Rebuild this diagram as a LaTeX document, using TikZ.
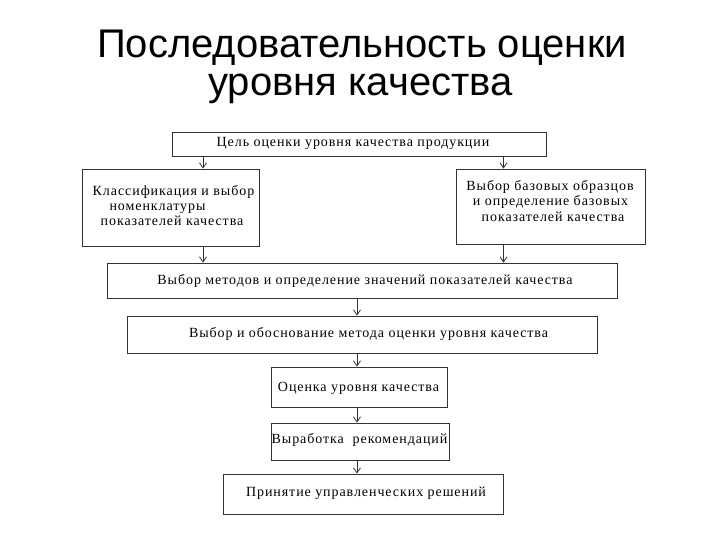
\documentclass[tikz,border=0pt]{standalone}
\usepackage{fontspec}
\setmainfont{Liberation Serif}
\newfontfamily\titlefont{Liberation Sans}
\newfontfamily\boxfont[LetterSpace=6.6]{Liberation Serif}
\usetikzlibrary{arrows.meta}
\begin{document}
\begin{tikzpicture}[x=1bp,y=-1bp,
  bx/.style={draw=black!80,line width=0.9bp,inner sep=0pt,fill=white},
  tx/.style={inner sep=0pt,yshift=-1.5bp,font=\boxfont\fontsize{14bp}{16bp}\selectfont,text height=0.7em,text depth=0.22em},
  ttl/.style={inner sep=0pt,anchor=base,font=\titlefont\fontsize{40bp}{40bp}\selectfont},
  arr/.style={draw=black!80,line width=0.8bp,-{Straight Barb[length=5bp,width=7bp]}}]
\useasboundingbox (0,0) rectangle (720,540);
\node[ttl] (title1) at (362,58) {Последовательность оценки};
\node[ttl] (title2) at (360.5,96) {уровня качества};
% boxes
\node[bx,minimum width=374bp,minimum height=24bp] (b0) at (359,144) {};
\node[bx,minimum width=177bp,minimum height=77bp] (b1) at (170.5,207.5) {};
\node[bx,minimum width=189bp,minimum height=75bp] (b2) at (550.5,206.5) {};
\node[bx,minimum width=510bp,minimum height=35bp] (b3) at (362,280.5) {};
\node[bx,minimum width=470bp,minimum height=37bp] (b4) at (362,334.5) {};
\node[bx,minimum width=176bp,minimum height=40bp] (b5) at (359,387) {};
\node[bx,minimum width=178bp,minimum height=37bp] (b6) at (360,441.5) {};
\node[bx,minimum width=280bp,minimum height=40bp] (b7) at (363,494) {};
% texts
\node[tx] (t0) at (353,143) {Цель оценки уровня качества продукции};
\node[tx] (t1a) at (173.5,192) {Классификация и выбор};
\node[tx] (t1b) at (157.5,207) {номенклатуры};
\node[tx] (t1c) at (172,222) {показателей качества};
\node[tx] (t2a) at (550,187) {Выбор базовых образцов};
\node[tx] (t2b) at (550.5,202) {и определение базовых};
\node[tx] (t2c) at (553,218) {показателей качества};
\node[tx] (t3) at (365,281) {Выбор методов и определение значений показателей качества};
\node[tx] (t4) at (368.5,334) {Выбор и обоснование метода оценки уровня качества};
\node[tx] (t5) at (358.5,388) {Оценка уровня качества};
\node[tx] (t6) at (359.5,440) {Выработка\ \ рекомендаций};
\node[tx] (t7) at (366,493) {Принятие управленческих решений};
% arrow columns
\coordinate (xl) at (203,0);
\coordinate (xr) at (503.5,0);
\coordinate (xm) at (357,0);
\draw[arr] (b0.south -| xl) -- (b1.north -| xl);
\draw[arr] (b0.south -| xr) -- (b2.north -| xr);
\draw[arr] (b1.south -| xl) -- (b3.north -| xl);
\draw[arr] (b2.south -| xr) -- (b3.north -| xr);
\draw[arr] (b3.south -| xm) -- (b4.north -| xm);
\draw[arr] (b4.south -| xm) -- (b5.north -| xm);
\draw[arr] (b5.south -| xm) -- (b6.north -| xm);
\draw[arr] (b6.south -| xm) -- (b7.north -| xm);
\end{tikzpicture}
\end{document}
